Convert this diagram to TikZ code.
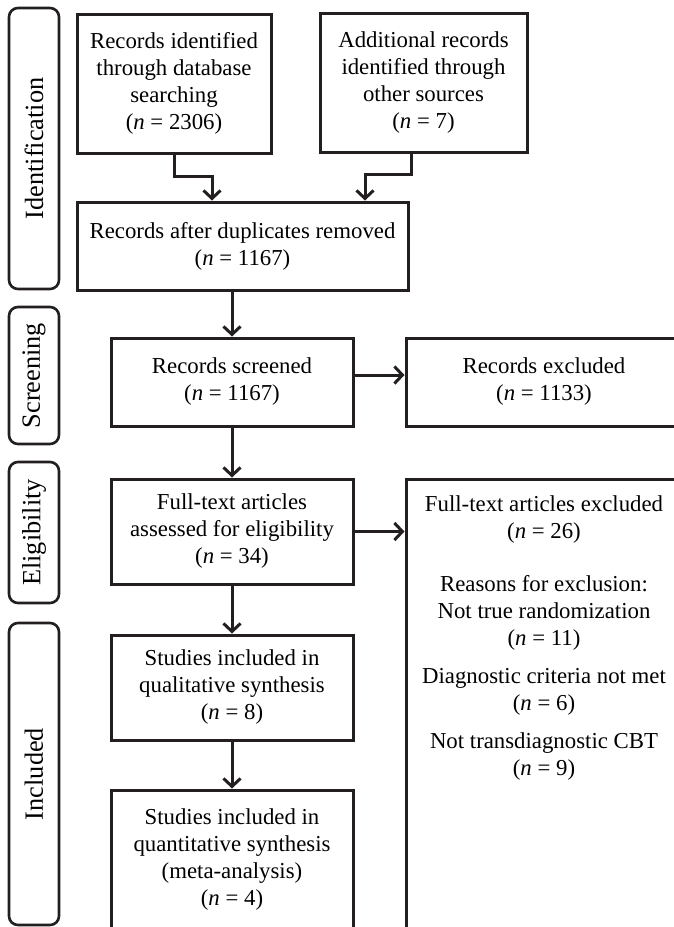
\documentclass[tikz,border=0pt]{standalone}
\usepackage{fontspec}
\setmainfont{Liberation Serif}
\usetikzlibrary{arrows.meta}

\definecolor{ink}{HTML}{231F20}

\tikzset{
  box/.style={draw=ink, line width=3pt, align=center, inner sep=0pt,
    font=\fontsize{22.8}{27}\selectfont},
  phase/.style={draw=ink, line width=2.6pt, rounded corners=9pt, rotate=90,
    inner sep=0pt, minimum height=50pt, font=\fontsize{26.3}{30}\selectfont},
  flow/.style={draw=ink, line width=3pt, -{Straight Barb[length=8pt,width=17pt]}},
}

\begin{document}
\begin{tikzpicture}[x=1pt,y=-1pt]
\useasboundingbox (0,0) rectangle (673,927);

% phase labels down the left side
\node[phase, minimum width=281pt] (ident) at (34,148.5) {Identification};
\node[phase, minimum width=137pt] (screen) at (34,375.5) {Screening};
\node[phase, minimum width=141pt] (elig) at (34,532.5) {Eligibility};
\node[phase, minimum width=302pt] (incl) at (34,774) {Included};

% identification
\node[box, minimum width=194pt, minimum height=139pt] (db) at (174,83.5)
  {Records identified\\through database\\searching\\(\textit{n} = 2306)};
\node[box, minimum width=207pt, minimum height=139pt] (other) at (423.5,82.5)
  {Additional records\\identified through\\other sources\\(\textit{n} = 7)};
\node[box, minimum width=331pt, minimum height=88pt] (dup) at (242.5,246)
  {Records after duplicates removed\\(\textit{n} = 1167)};

% screening
\node[box, minimum width=242pt, minimum height=88pt] (screened) at (232,382)
  {Records screened\\(\textit{n} = 1167)};
\node[box, minimum width=276pt, minimum height=88pt] (excl) at (544,382)
  {Records excluded\\(\textit{n} = 1133)};

% eligibility
\node[box, minimum width=242pt, minimum height=105pt] (fulltext) at (232,531.5)
  {Full-text articles\\assessed for eligibility\\(\textit{n} = 34)};
\node[box, minimum width=276pt, minimum height=481pt] (ftexcl) at (544,719.5) {};
\node[box, draw=none, anchor=north] (reasons) at (544,494)
  {Full-text articles excluded\\(\textit{n} = 26)\\[26pt]
   Reasons for exclusion:\\Not true randomization\\(\textit{n} = 11)\\[11pt]
   Diagnostic criteria not met\\(\textit{n} = 6)\\[11pt]
   Not transdiagnostic CBT\\(\textit{n} = 9)};

% included
\node[box, minimum width=242pt, minimum height=105pt] (qual) at (232,687.5)
  {Studies included in\\qualitative synthesis\\(\textit{n} = 8)};
\node[box, minimum width=242pt, minimum height=139pt] (quant) at (232,859.5)
  {Studies included in\\quantitative synthesis\\(meta-analysis)\\(\textit{n} = 4)};

% connectors
\coordinate (joinA) at (212,176);
\coordinate (joinB) at (365,174);
\draw[flow] (db.south) |- (joinA) -- (joinA |- dup.north);
\draw[flow] ([xshift=-12.5pt]other.south) |- (joinB) -- (joinB |- dup.north);
\draw[flow] (dup.south -| screened.north) -- (screened.north);
\draw[flow] ([yshift=7pt]screened.east) -- ([yshift=7pt]excl.west);
\draw[flow] (screened) -- (fulltext);
\draw[flow] (fulltext.east) -- (fulltext.east -| ftexcl.west);
\draw[flow] (fulltext) -- (qual);
\draw[flow] (qual) -- (quant);
\end{tikzpicture}
\end{document}
